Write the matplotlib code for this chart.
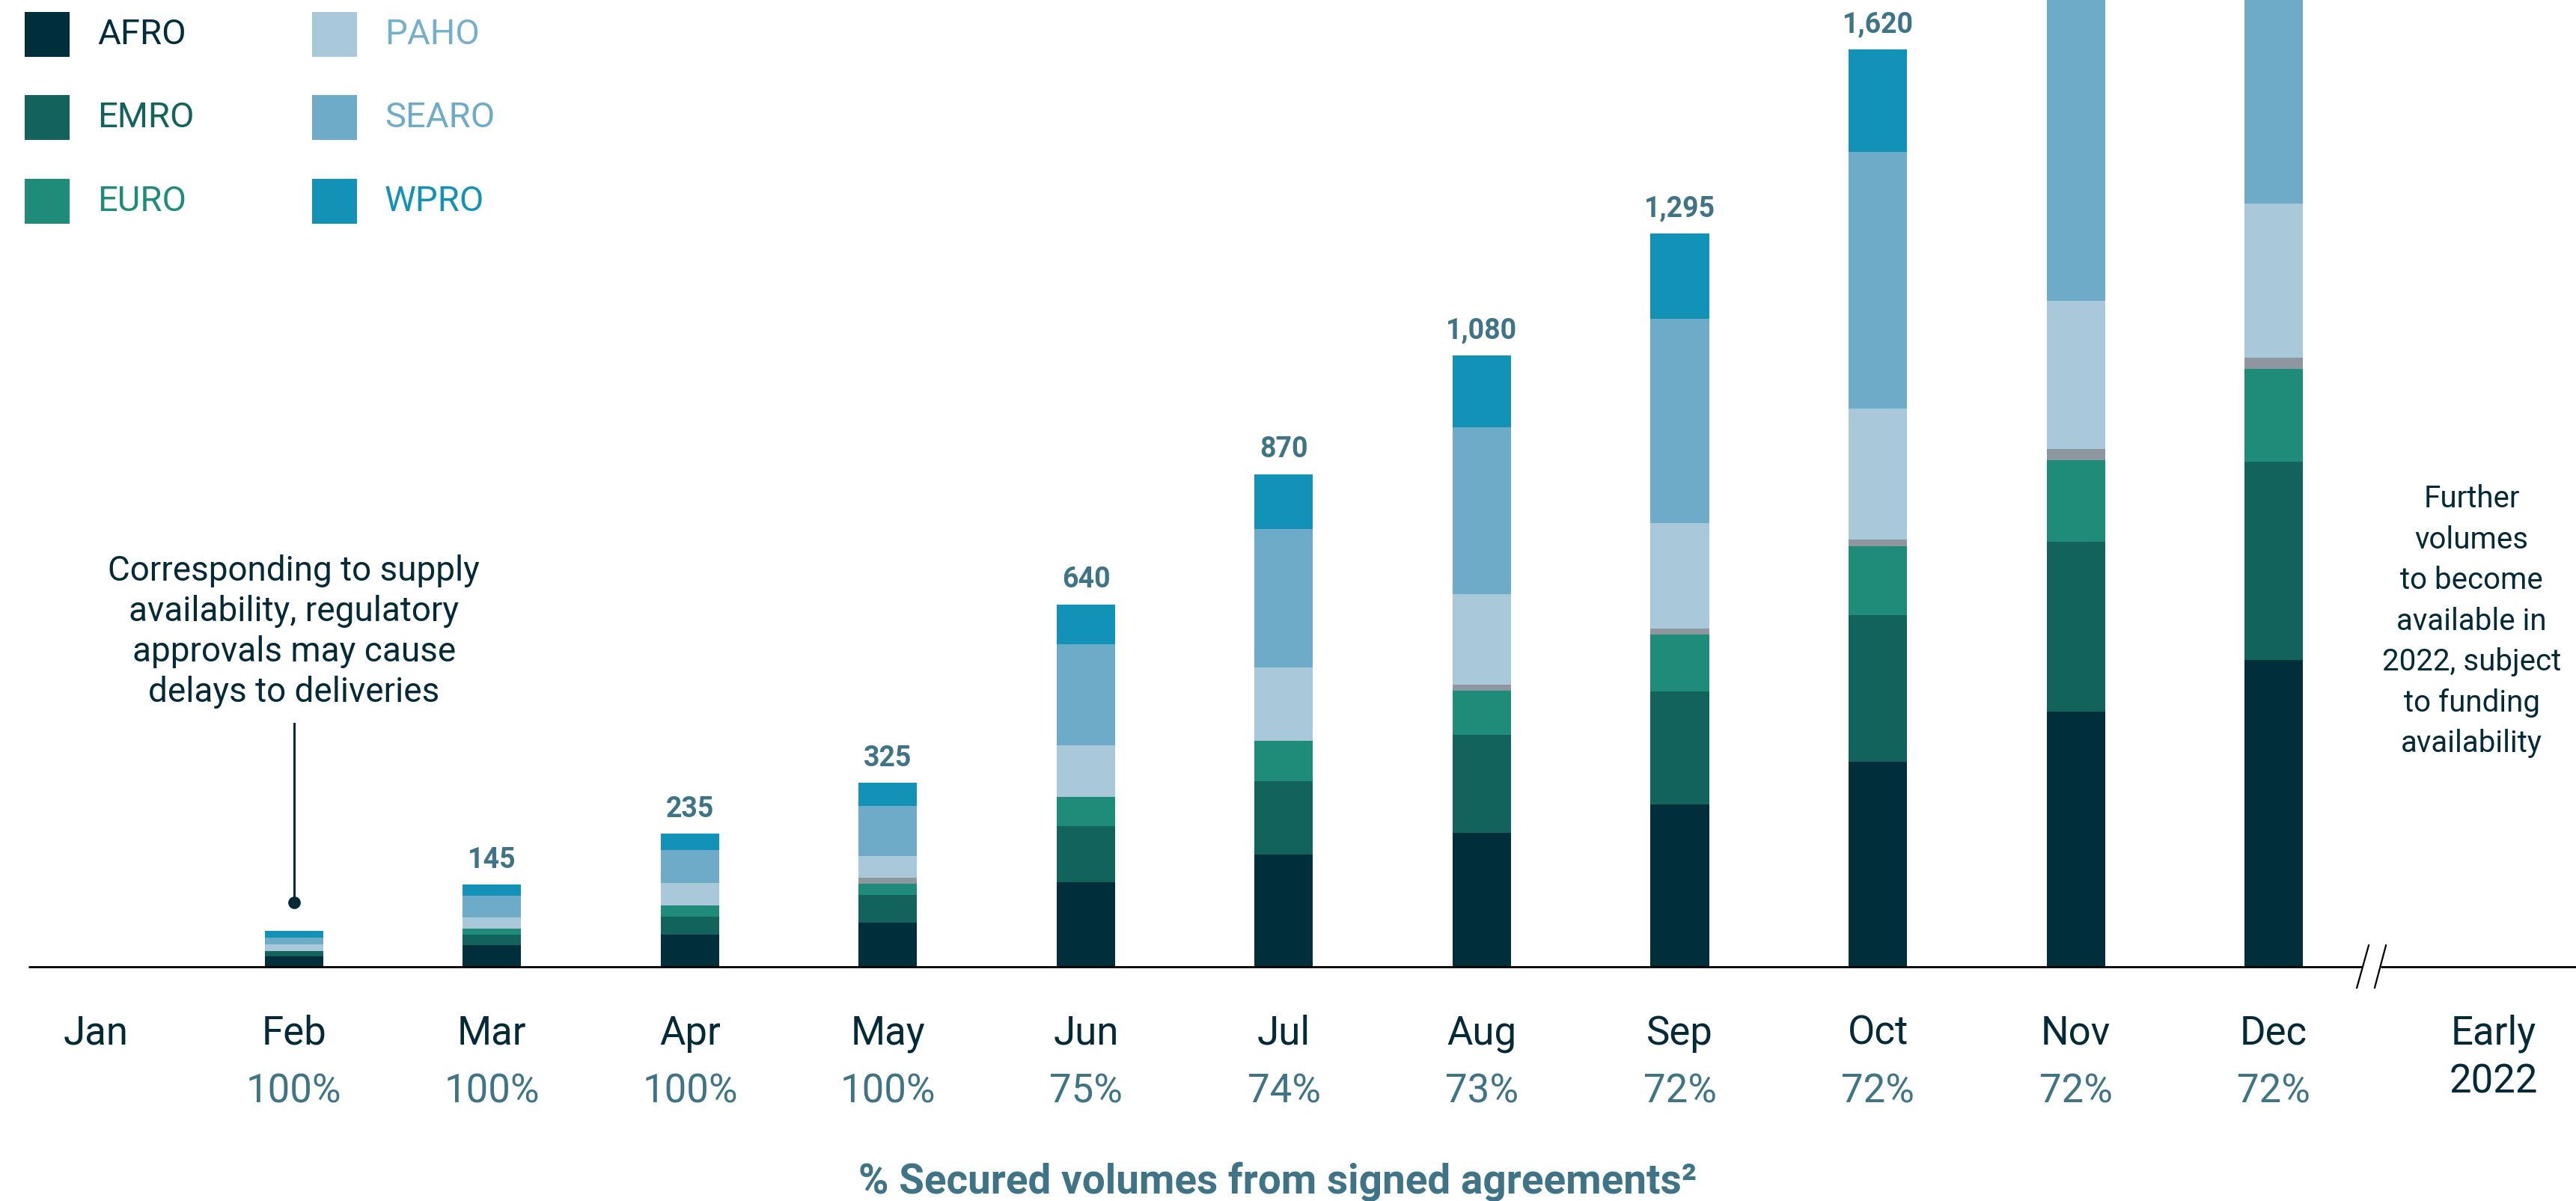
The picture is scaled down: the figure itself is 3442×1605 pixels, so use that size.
import matplotlib
matplotlib.use("Agg")
import matplotlib.pyplot as plt
from matplotlib.patches import Rectangle
import numpy as np

plt.rcParams['font.family'] = ['Roboto', 'DejaVu Sans']

# ------------------------------------------------------------
# Data
# ------------------------------------------------------------
months = ["Feb", "Mar", "Apr", "May", "Jun", "Jul", "Aug", "Sep", "Oct", "Nov", "Dec"]
secured = ["100%", "100%", "100%", "100%", "75%", "74%", "73%", "72%", "72%", "72%", "72%"]

afro = [18, 38, 57, 78, 149, 198, 237, 287, 362, 451, 542]
emro = [10, 19, 31, 49, 100, 130, 172, 199, 259, 300, 350]
euro = [0, 10, 20, 20, 51, 71, 79, 101, 121, 143, 163]
other = [0, 0, 0, 10, 0, 0, 10, 10, 13, 20, 20]
paho = [12, 20, 40, 39, 91, 130, 160, 187, 230, 262, 272]
searo = [11, 39, 58, 88, 179, 244, 295, 360, 454, 600, 560]
wpro = [12, 19, 29, 41, 70, 97, 127, 151, 181, 220, 250]

show_total = [False, True, True, True, True, True, True, True, True, False, False]

regions = ["AFRO", "EMRO", "EURO", "", "PAHO", "SEARO", "WPRO"]
series = [afro, emro, euro, other, paho, searo, wpro]
colors = ["#012E3B", "#12635C", "#1E8C79", "#8E96A0", "#A9C8DA", "#6EABC8", "#1392B7"]
text_colors = ["#012E3B", "#12635C", "#1E8C79", None, "#74AFCB", "#6EABC8", "#1392B7"]

dark = "#052A37"
teal_text = "#3E7485"

# ------------------------------------------------------------
fig = plt.figure(figsize=(34.42, 16.05), dpi=100)
ax = fig.add_axes([0.011, 0.195, 0.989, 0.805])

x = np.arange(1, len(months) + 1)
bottom = np.zeros(len(months))
for vals, col in zip(series, colors):
    vals = np.array(vals, dtype=float)
    ax.bar(x, vals, width=0.295, bottom=bottom, color=col, linewidth=0)
    bottom += vals

# totals above bars
for xi, tot, show in zip(x, bottom, show_total):
    if show:
        ax.annotate(f"{int(tot):,}", (xi, tot), xytext=(0, 16), textcoords="offset points",
                    ha="center", va="baseline", fontsize=27, fontweight="bold", color=teal_text)

ax.set_xlim(-0.342, 12.527)
ax.set_ylim(0, 1707)
ax.axis("off")

# baseline with axis break
ax.plot([-0.342, 11.45], [0, 0], color="black", lw=2, clip_on=False, solid_capstyle="butt")
ax.plot([11.54, 12.527], [0, 0], color="black", lw=2, clip_on=False, solid_capstyle="butt")
ax.plot([11.42, 11.48], [-37, 38], color="black", lw=1.6, clip_on=False)
ax.plot([11.51, 11.567], [-37, 38], color="black", lw=1.6, clip_on=False)

# month and percentage labels
ax.text(0, -137, "Jan", ha="center", va="baseline", fontsize=38, color=dark, clip_on=False)
for xi, m, p in zip(x, months, secured):
    ax.text(xi, -137, m, ha="center", va="baseline", fontsize=38, color=dark, clip_on=False)
    ax.text(xi, -240, p, ha="center", va="baseline", fontsize=38, color=teal_text, clip_on=False)
ax.text(12.11, -137, "Early", ha="center", va="baseline", fontsize=38, color=dark, clip_on=False)
ax.text(12.11, -222, "2022", ha="center", va="baseline", fontsize=38, color=dark, clip_on=False)

ax.text(5.97, -400, "% Secured volumes from signed agreements²", ha="center", va="baseline",
        fontsize=39.5, fontweight="bold", color=teal_text, clip_on=False)

# annotations
ax.text(1, 592, "Corresponding to supply\navailability, regulatory\napprovals may cause\ndelays to deliveries",
        ha="center", va="center", fontsize=33, color=dark, linespacing=1.29, clip_on=False)
ax.plot([1, 1], [114, 429], color=dark, lw=2.2)
ax.plot([1], [114], marker="o", markersize=11, color=dark)

ax.text(12.0, 610, "Further\nvolumes\nto become\navailable in\n2022, subject\nto funding\navailability",
        ha="center", va="center", fontsize=29, color=dark, linespacing=1.5, clip_on=False)

# legend
W, H = 3442.0, 1605.0
leg_pos = [(33, 16), (33, 127), (33, 239), None, (417, 16), (417, 127), (417, 239)]
for name, col, tcol, pos in zip(regions, colors, text_colors, leg_pos):
    if pos is None:
        continue
    px, py = pos
    fig.add_artist(Rectangle((px / W, 1 - (py + 60) / H), 60 / W, 60 / H,
                             transform=fig.transFigure, color=col, linewidth=0))
    fig.text((px + 97) / W, 1 - (py + 30) / H, name, ha="left", va="center",
             fontsize=34, color=tcol)

fig.savefig("out.png", dpi=100)
